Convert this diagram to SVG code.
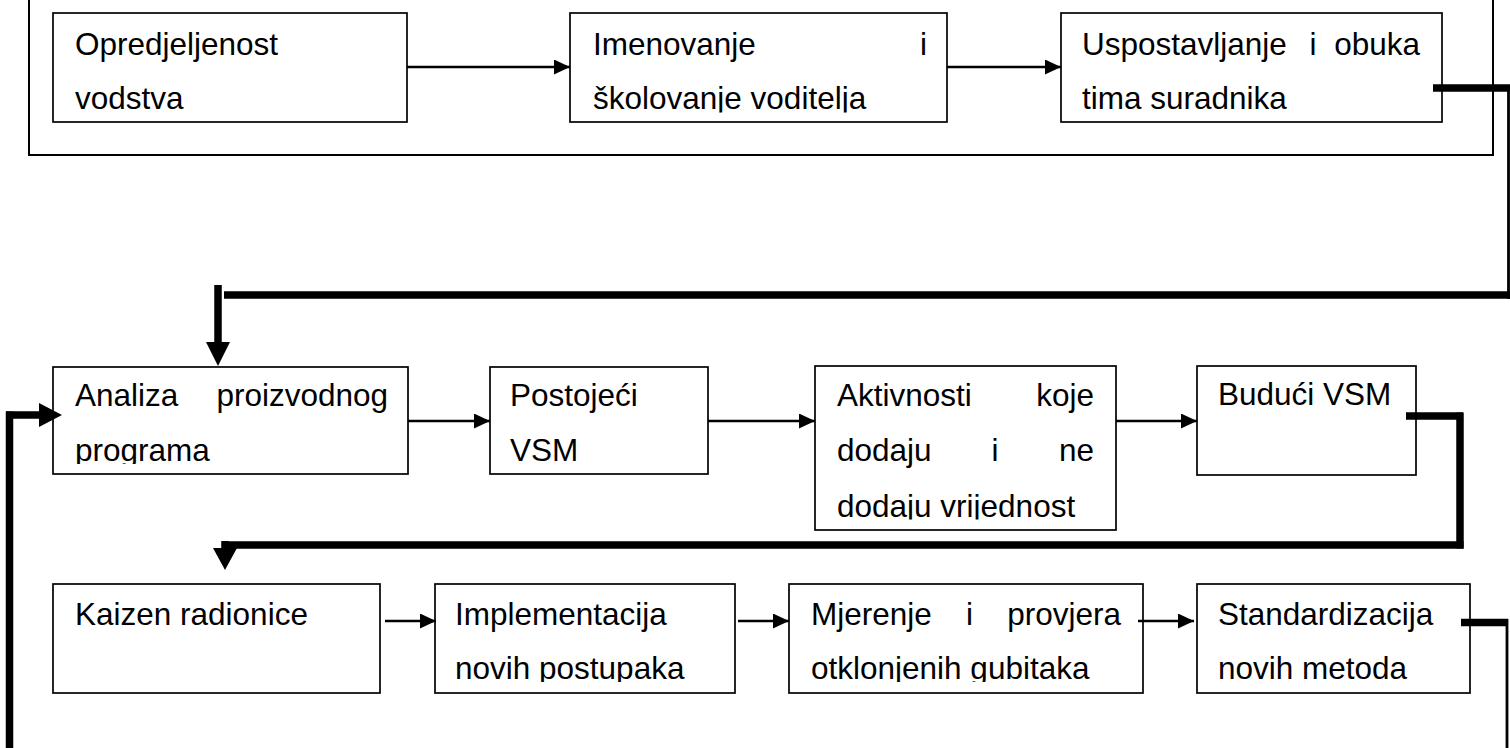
<svg xmlns="http://www.w3.org/2000/svg" width="1510" height="748" viewBox="0 0 1510 748">
<style>
.box{fill:#fff;stroke:#000;stroke-width:1.7}
.frame{fill:#fff;stroke:#000;stroke-width:2}
.t{font-family:"Liberation Sans",Arial,sans-serif;font-size:31.5px;fill:#000}
.e{text-anchor:end}
.m{text-anchor:middle}
.ln{fill:none;stroke:#000;stroke-width:2.5}
.th{fill:none;stroke:#000;stroke-width:7.5}
.tn{fill:none;stroke:#000;stroke-width:2.8}
.hd{fill:#000;stroke:none}
</style>
<defs>
<marker id="ah" markerUnits="userSpaceOnUse" markerWidth="16" markerHeight="15" refX="16" refY="7.5" orient="auto">
<path d="M0,0 L16,7.5 L0,15 z" fill="#000"/>
</marker>
<clipPath id="c1" clipPathUnits="userSpaceOnUse"><rect x="0" y="0" width="1510" height="112.5"/></clipPath>
<clipPath id="c2" clipPathUnits="userSpaceOnUse"><rect x="0" y="300" width="1510" height="164"/></clipPath>
<clipPath id="c3" clipPathUnits="userSpaceOnUse"><rect x="0" y="300" width="1510" height="219.5"/></clipPath>
<clipPath id="c4" clipPathUnits="userSpaceOnUse"><rect x="0" y="560" width="1510" height="122"/></clipPath>
</defs>

<g id="frame">
<rect class="frame" x="29" y="-10" width="1464" height="165"/>
</g>

<g id="n1">
<rect class="box" x="53" y="13" width="354" height="109"/>
<text class="t" x="75" y="55">Opredjeljenost</text>
<text class="t" x="75" y="109">vodstva</text>
</g>

<g id="n2">
<rect class="box" x="570" y="13" width="377" height="109"/>
<text class="t" x="593" y="55">Imenovanje</text>
<text class="t e" x="927" y="55">i</text>
<text class="t" x="593" y="109" clip-path="url(#c1)">školovanje voditelja</text>
</g>

<g id="n3">
<rect class="box" x="1061" y="13" width="381" height="109"/>
<text class="t" x="1082" y="55">Uspostavljanje</text>
<text class="t m" x="1313" y="55">i</text>
<text class="t e" x="1420" y="55">obuka</text>
<text class="t" x="1082" y="109">tima suradnika</text>
</g>

<g id="n4">
<rect class="box" x="53" y="367" width="355" height="107"/>
<text class="t" x="75" y="406">Analiza</text>
<text class="t e" x="388" y="406">proizvodnog</text>
<text class="t" x="75" y="461" clip-path="url(#c2)">programa</text>
</g>

<g id="n5">
<rect class="box" x="490" y="367" width="218" height="107"/>
<text class="t" x="510" y="406">Postojeći</text>
<text class="t" x="510" y="461">VSM</text>
</g>

<g id="n6">
<rect class="box" x="815" y="366" width="301" height="164"/>
<text class="t" x="837" y="406">Aktivnosti</text>
<text class="t e" x="1094" y="406">koje</text>
<text class="t" x="837" y="461">dodaju</text>
<text class="t m" x="995" y="461">i</text>
<text class="t e" x="1094" y="461">ne</text>
<text class="t" x="837" y="516.5" clip-path="url(#c3)">dodaju vrijednost</text>
</g>

<g id="n7">
<rect class="box" x="1197" y="366" width="219" height="109"/>
<text class="t" x="1218" y="405">Budući VSM</text>
</g>

<g id="n8">
<rect class="box" x="53" y="584" width="327" height="109"/>
<text class="t" x="75" y="624.5">Kaizen radionice</text>
</g>

<g id="n9">
<rect class="box" x="435" y="584" width="300" height="109"/>
<text class="t" x="455" y="624.5">Implementacija</text>
<text class="t" x="455" y="679" clip-path="url(#c4)">novih postupaka</text>
</g>

<g id="n10">
<rect class="box" x="789" y="584" width="354" height="109"/>
<text class="t" x="811" y="624.5">Mjerenje</text>
<text class="t m" x="969.5" y="624.5">i</text>
<text class="t e" x="1121" y="624.5">provjera</text>
<text class="t" x="811" y="679" clip-path="url(#c4)">otklonjenih gubitaka</text>
</g>

<g id="n11">
<rect class="box" x="1197" y="584" width="273" height="109"/>
<text class="t" x="1218" y="624.5">Standardizacija</text>
<text class="t" x="1218" y="679">novih metoda</text>
</g>

<g id="connectors">
<line class="ln" x1="407" y1="67" x2="570" y2="67" marker-end="url(#ah)"/>
<line class="ln" x1="947" y1="67" x2="1061" y2="67" marker-end="url(#ah)"/>
<line class="ln" x1="408" y1="421" x2="490" y2="421" marker-end="url(#ah)"/>
<line class="ln" x1="708" y1="421" x2="815" y2="421" marker-end="url(#ah)"/>
<line class="ln" x1="1116" y1="421" x2="1197" y2="421" marker-end="url(#ah)"/>
<line class="ln" x1="385" y1="621" x2="436" y2="621" marker-end="url(#ah)"/>
<line class="ln" x1="738" y1="621" x2="789" y2="621" marker-end="url(#ah)"/>
<line class="ln" x1="1138" y1="621" x2="1194" y2="621" marker-end="url(#ah)"/>

<path class="th" d="M1433,88 H1510"/>
<path class="tn" d="M1508.5,85 V299"/>
<path class="th" d="M1510,295 H224"/>
<path class="th" d="M218,285 V344"/>
<polygon class="hd" points="206,342 230,342 218,366"/>

<path class="th" d="M1406,416 H1463"/>
<path class="th" d="M1460,412.5 V548.5"/>
<path class="th" d="M1463.5,545 H228"/>
<path class="th" d="M225,541 V550"/>
<polygon class="hd" points="213,548 237,548 225,570"/>

<path class="th" d="M1461,622.5 H1508"/>
<path class="tn" d="M1507,619 V748"/>

<path class="th" d="M9.5,748 V411.5"/>
<path class="th" d="M6,415 H41"/>
<polygon class="hd" points="39,403 39,427 62,415"/>
</g>
</svg>
